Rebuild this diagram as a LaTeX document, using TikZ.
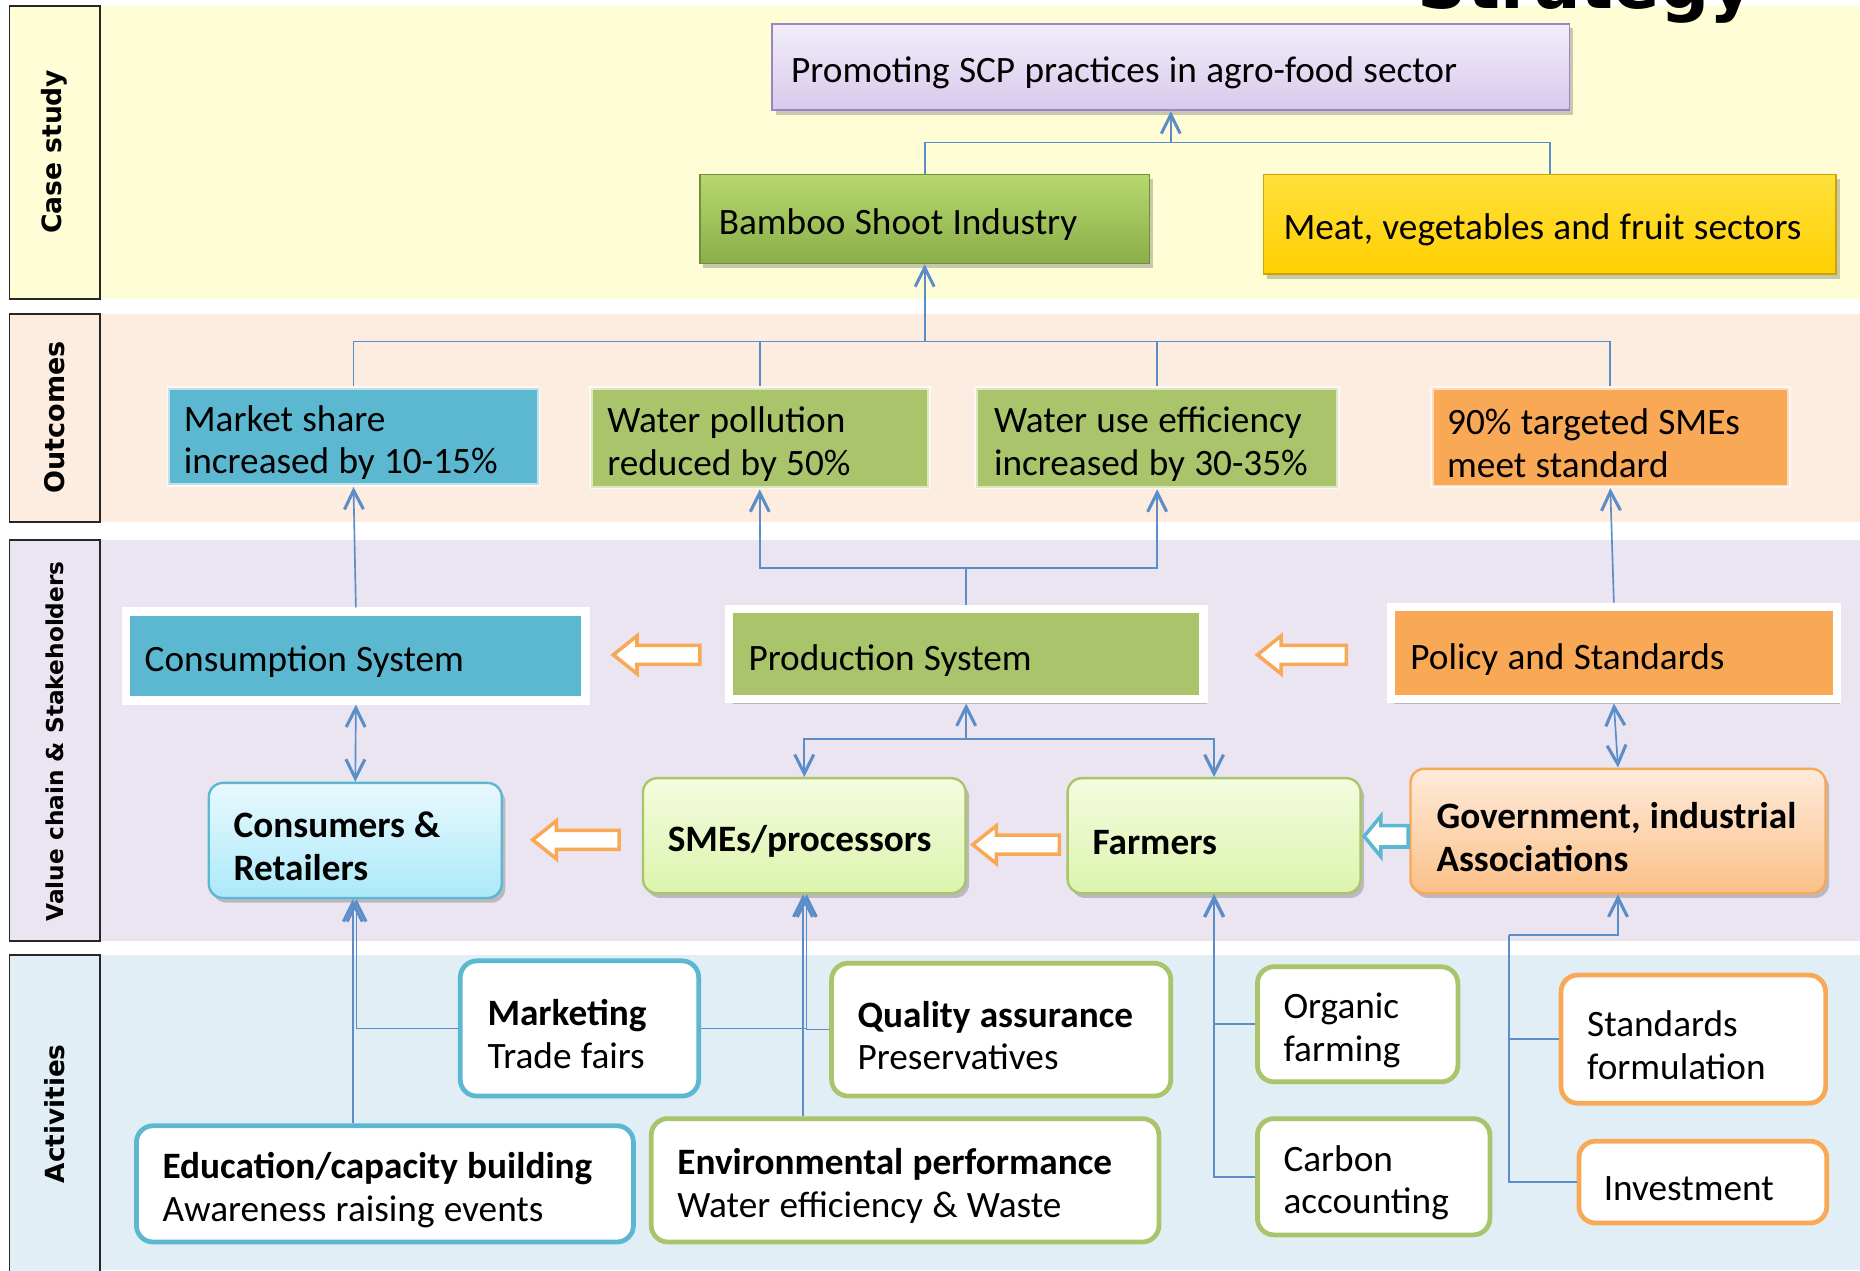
\documentclass[tikz,border=0pt]{standalone}
\usepackage{fontspec}
\setmainfont{Carlito}
\newfontfamily\sidefont{DejaVu Sans}
\usetikzlibrary{arrows.meta,shadows}
\definecolor{bandY}{HTML}{FEFDD6}
\definecolor{bandO}{HTML}{FDEDE1}
\definecolor{bandV}{HTML}{EAE5F0}
\definecolor{bandA}{HTML}{E1EEF5}
\definecolor{cBlue}{HTML}{5BB8D0}
\definecolor{cGreen}{HTML}{AAC46B}
\definecolor{cOrange}{HTML}{F9A856}
\definecolor{cLine}{HTML}{5B8DC9}
\definecolor{promoTop}{HTML}{F2EEFA}
\definecolor{promoBot}{HTML}{D8C9EC}
\definecolor{promoLine}{HTML}{9A85C4}
\definecolor{bambTop}{HTML}{B6D86E}
\definecolor{bambBot}{HTML}{8CAE4A}
\definecolor{bambLine}{HTML}{6F8F3A}
\definecolor{meatTop}{HTML}{FFE13C}
\definecolor{meatBot}{HTML}{FFCF00}
\definecolor{meatLine}{HTML}{CDA300}
\definecolor{cyTop}{HTML}{E9F9FE}
\definecolor{cyBot}{HTML}{ABE9F9}
\definecolor{grTop}{HTML}{F4FCDF}
\definecolor{grBot}{HTML}{DCF4AD}
\definecolor{orTop}{HTML}{FEEBDB}
\definecolor{orBot}{HTML}{FBC088}
\tikzset{
  vtip/.tip={Straight Barb[length=8pt,width=8pt,line width=1.3pt]},
  conn/.style={draw=cLine, line width=0.7pt},
  txt/.style={font=\fontsize{15.7}{18}\selectfont, align=left, inner ysep=0pt,
    execute at begin node={\spaceskip=0.25em plus 0.05em\relax\rule{0pt}{16pt}}},
  lift/.style={execute at begin node={\spaceskip=0.25em plus 0.05em\relax\rule{0pt}{14pt}}},
  sidebox/.style={draw=black!85, line width=0.8pt},
  sidetxt/.style={font=\sidefont\bfseries, rotate=90},
  shd/.style={drop shadow={shadow xshift=1.5pt, shadow yshift=-2pt, opacity=0.35, fill=black!60}},
  topbox/.style={txt, shd, line width=0.7pt},
  outbox/.style={txt, draw=white, draw opacity=0.6, line width=1.5pt},
  framebox/.style={txt, shd, draw=white, line width=3.5pt},
  rbox/.style={txt, shd, rounded corners=6pt, line width=1pt, font=\fontsize{15.7}{18}\selectfont\bfseries},
  abox/.style={txt, rounded corners=7pt, line width=2pt, fill=white},
  barr/.style={line width=1.5pt, fill=white, line join=miter},
}
\begin{document}
\begin{tikzpicture}[x=0.5pt,y=-0.5pt]
\useasboundingbox (0,0) rectangle (1568,1071);
% bands
\fill[bandY] (84,5) rectangle (1568,252);
\fill[bandO] (84,265) rectangle (1568,440);
\fill[bandV] (84,455) rectangle (1568,793);
\fill[bandA] (84,805) rectangle (1568,1071);
\draw[sidebox, fill=bandY] (8,5) rectangle (84,252);
\draw[sidebox, fill=bandO] (8,265) rectangle (84,440);
\draw[sidebox, fill=bandV] (8,455) rectangle (84,793);
\draw[sidebox, fill=bandA] (8,805) rectangle (84,1080);
\node[sidetxt, font=\sidefont\bfseries\fontsize{11.2}{13}\selectfont] (lcase) at (46,128) {Case study};
\node[sidetxt, font=\sidefont\bfseries\fontsize{11.4}{13}\selectfont] (lout) at (46,352) {Outcomes};
\node[sidetxt, font=\sidefont\bfseries\fontsize{9.8}{12}\selectfont] (lval) at (46,625) {Value chain \& Stakeholders};
\node[sidetxt, font=\sidefont\bfseries\fontsize{11.1}{13}\selectfont] (lact) at (46,939) {Activities};
% title (cut off at the top edge, as in the original)
\begin{scope}
\clip (0,0) rectangle (1568,1071);
\node[font=\sidefont\bfseries\fontsize{29}{30}\selectfont, anchor=base, inner sep=0pt] (title) at (1337,7) {Strategy};
\end{scope}
% case study
\node[topbox, draw=promoLine, top color=promoTop, bottom color=promoBot, minimum width=336pt, minimum height=36.5pt, text width=320pt, inner xsep=8pt] (promo) at (987,56.5) {Promoting SCP practices in agro-food sector};
\node[topbox, draw=bambLine, top color=bambTop, bottom color=bambBot, minimum width=189.5pt, minimum height=37.5pt, text width=173.5pt, inner xsep=8pt] (bamboo) at (779.5,184.5) {Bamboo Shoot Industry};
\node[topbox, draw=meatLine, top color=meatTop, bottom color=meatBot, minimum width=241.5pt, minimum height=42pt, text width=224.5pt, inner xsep=8.5pt] (meat) at (1306.5,189) {Meat, vegetables and fruit sectors};
% outcomes
\node[outbox, fill=cBlue, minimum width=156pt, minimum height=41pt, text width=143pt, inner xsep=6.5pt] (market) at (298,368) {Market share\\increased by 10-15\%};
\node[outbox, fill=cGreen, minimum width=142.5pt, minimum height=42pt, text width=128.5pt, inner xsep=7pt] (wpol) at (640.5,369) {Water pollution\\reduced by 50\%};
\node[outbox, fill=cGreen, minimum width=152.5pt, minimum height=42pt, text width=137.5pt, inner xsep=7.5pt] (wuse) at (975.5,369) {Water use efficiency\\increased by 30-35\%};
\node[outbox, fill=cOrange, minimum width=150.5pt, minimum height=41.5pt, text width=137.5pt, inner xsep=6.5pt] (sme90) at (1357.5,368.5) {90\% targeted SMEs\\meet standard};
% value chain row 1
\node[framebox, fill=cBlue, minimum width=193.5pt, minimum height=37.5pt, text width=178pt, inner xsep=7.75pt] (cons) at (300,553) {Consumption System};
\node[framebox, fill=cGreen, minimum width=200pt, minimum height=38pt, text width=183.5pt, inner xsep=8.25pt] (prod) at (814.5,551.5) {Production System};
\node[framebox, fill=cOrange, minimum width=188pt, minimum height=39pt, text width=171.5pt, inner xsep=8.25pt] (policy) at (1360.5,550.5) {Policy and Standards};
% value chain row 2
\node[rbox, lift, draw=cBlue, top color=cyTop, bottom color=cyBot, minimum width=123.5pt, minimum height=48.5pt, text width=102.5pt, inner xsep=10.5pt] (consumers) at (299.5,708.5) {\mbox{Consumers \&}\\Retailers};
\node[rbox, draw=cGreen, top color=grTop, bottom color=grBot, minimum width=136pt, minimum height=48.5pt, text width=115pt, inner xsep=10.5pt] (smes) at (678,704.5) {\mbox{SMEs/processors}};
\node[rbox, draw=cGreen, top color=grTop, bottom color=grBot, minimum width=123.5pt, minimum height=48.5pt, text width=102.5pt, inner xsep=10.5pt] (farmers) at (1023.5,704.5) {Farmers};
\node[rbox, lift, draw=cOrange, top color=orTop, bottom color=orBot, minimum width=175pt, minimum height=52.5pt, text width=153pt, inner xsep=11pt] (gov) at (1364,700.5) {\mbox{Government, industrial}\\Associations};
% activities
\node[abox, lift, draw=cBlue, minimum width=100.5pt, minimum height=57pt, text width=77.5pt, inner xsep=11.5pt] (marketing) at (488.5,867) {\textbf{Marketing}\\Trade fairs};
\node[abox, lift, draw=cGreen, minimum width=143pt, minimum height=56pt, text width=121pt, inner xsep=11pt] (quality) at (844,868) {\mbox{\textbf{Quality assurance}}\\Preservatives};
\node[abox, draw=cGreen, minimum width=84.5pt, minimum height=48.5pt, text width=62.5pt, inner xsep=11pt] (organic) at (1144.5,863.5) {Organic\\farming};
\node[abox, lift, draw=cOrange, minimum width=111.5pt, minimum height=54pt, text width=89.5pt, inner xsep=11pt] (standards) at (1427.5,876) {Standards\\formulation};
\node[abox, draw=cBlue, minimum width=209.5pt, minimum height=49pt, text width=187.5pt, inner xsep=11pt] (edu) at (324.5,998) {\mbox{\textbf{Education/capacity building}}\\\mbox{Awareness raising events}};
\node[abox, draw=cGreen, minimum width=214pt, minimum height=52pt, text width=192pt, inner xsep=11pt] (env) at (763,995) {\mbox{\textbf{Environmental performance}}\\\mbox{Water efficiency \& Waste}};
\node[abox, draw=cGreen, minimum width=98pt, minimum height=49pt, text width=76pt, inner xsep=11pt] (carbon) at (1158,992) {Carbon\\accounting};
\node[abox, draw=cOrange, minimum width=104.5pt, minimum height=34.5pt, text width=83.5pt, inner xsep=10.5pt] (invest) at (1435.5,996.5) {Investment};
% junction coordinates
\coordinate (j1) at (987,120);
\coordinate (j2) at (779.5,288);
\coordinate (j3) at (814.5,479);
\coordinate (j4) at (814.5,623);
\coordinate (j5) at (1272,788);
% connectors: case study
\draw[conn] (bamboo.north) |- (j1);
\draw[conn] (meat.north) |- (j1);
\draw[conn,-vtip] (j1) -- (promo.south);
% outcomes -> bamboo
\draw[conn] (market.north) |- (j2);
\draw[conn] (wpol.north) |- (j2);
\draw[conn] (wuse.north) |- (j2);
\draw[conn] (sme90.north) |- (j2);
\draw[conn,-vtip] (j2) -- (bamboo.south);
% value chain -> outcomes
\draw[conn,-vtip] (cons.north) -- (market.south);
\draw[conn] (prod.north) -- (j3);
\draw[conn,-vtip] (j3) -| (wpol.south);
\draw[conn,-vtip] (j3) -| (wuse.south);
\draw[conn,-vtip] (policy.north) -- (sme90.south);
% value chain internal
\draw[conn,vtip-vtip] (cons.south) -- (consumers.north);
\draw[conn,-vtip] (j4) -- (prod.south);
\draw[conn,-vtip] (j4) -| (smes.north);
\draw[conn,-vtip] (j4) -| (farmers.north);
\draw[conn,vtip-vtip] (policy.south) -- (gov.north);
% block arrows
\draw[barr, draw=cOrange] (517,552) -- (537,536) -- (537,544) -- (590,544) -- (590,560) -- (537,560) -- (537,568) -- cycle;
\draw[barr, draw=cOrange] (1060,552) -- (1080,536) -- (1080,544) -- (1135,544) -- (1135,560) -- (1080,560) -- (1080,568) -- cycle;
\draw[barr, draw=cOrange] (449,708) -- (469,692) -- (469,700) -- (522,700) -- (522,716) -- (469,716) -- (469,724) -- cycle;
\draw[barr, draw=cOrange] (820,712) -- (840,696) -- (840,704) -- (893,704) -- (893,720) -- (840,720) -- (840,728) -- cycle;
\draw[barr, draw=cBlue] (1150,705) -- (1164,688) -- (1164,696) -- (1187,696) -- (1187,714) -- (1164,714) -- (1164,722) -- cycle;
% activities -> value chain
\draw[conn,-vtip] ([xshift=-1pt]consumers.south |- edu.north) -- ([xshift=-1pt]consumers.south);
\draw[conn,-vtip] (marketing.west) -| ([xshift=0.5pt]consumers.south);
\draw[conn,-vtip] ([xshift=-0.5pt]smes.south |- env.north) -- ([xshift=-0.5pt]smes.south);
\draw[conn,-vtip] (marketing.east) -| ([xshift=1pt]smes.south);
\draw[conn,-vtip] (quality.west) -| ([xshift=1pt]smes.south);
\draw[conn,-vtip] (organic.west) -| (farmers.south);
\draw[conn,-vtip] (carbon.west) -| (farmers.south);
\draw[conn] (standards.west) -| (j5);
\draw[conn] (invest.west) -| (j5);
\draw[conn,-vtip] (j5) -| (gov.south);
\end{tikzpicture}
\end{document}
